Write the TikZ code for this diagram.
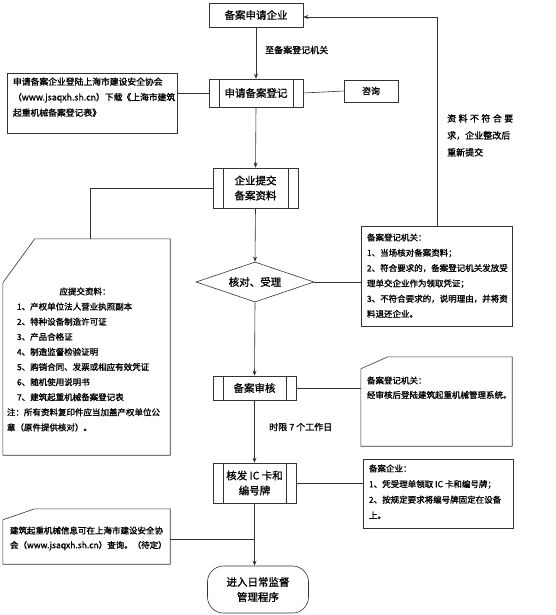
\documentclass[tikz,border=0pt]{standalone}
\usepackage{fontspec}
\setmainfont{Noto Sans CJK SC}[FakeBold=1.2,AutoFakeBold=1.2]
\usetikzlibrary{shapes.geometric,arrows.meta,calc}
\begin{document}
\begin{tikzpicture}[x=1pt,y=-1pt,
 line/.style={draw=black!80,line width=0.6pt},
 arr/.style={line,-{Stealth[length=5pt,width=4pt]}},
 box/.style={line,rectangle,inner sep=0pt,align=center,font=\fontsize{10.5}{15}\selectfont},
 notebox/.style={rectangle,inner sep=0pt},
 notetext/.style={anchor=north west,inner sep=0pt,align=left,font=\fontsize{8.5}{15.3}\selectfont},
 lbl/.style={anchor=west,inner sep=0pt,font=\fontsize{9}{12}\selectfont}]
\useasboundingbox (0,0) rectangle (555,615);

% main column
\node[box,minimum width=94pt,minimum height=24pt] (qy) at (256,15) {备案申请企业};
\node[box,minimum width=94pt,minimum height=28pt] (sq) at (256,93) {申请备案登记};
\node[box,minimum width=85pt,minimum height=40pt] (tj) at (255.5,188) {企业提交\\备案资料};
\node[line,diamond,inner sep=0pt,aspect=2.95,minimum width=118pt,minimum height=40pt,font=\fontsize{10.5}{15}\selectfont] (hd) at (255,282) {核对、受理};
\node[box,minimum width=83pt,minimum height=24pt] (sh) at (254.5,388) {备案审核};
\node[box,minimum width=83pt,minimum height=40pt] (hf) at (254.5,483) {核发 IC 卡和\\编号牌};
\node[box,rounded corners=16pt,minimum width=101pt,minimum height=47pt] (jr) at (258,589.5) {进入日常监督\\管理程序};

\foreach \n in {sq,tj,sh,hf} {
  \draw[line] ($(\n.north west)+(11,0)$) -- ($(\n.south west)+(11,0)$);
  \draw[line] ($(\n.north east)+(-10,0)$) -- ($(\n.south east)+(-10,0)$);
}

% side boxes
\node[box,minimum width=54pt,minimum height=22pt,font=\fontsize{9}{12}\selectfont] (zx) at (371,91) {咨询};

\node[notebox,minimum width=170pt,minimum height=59pt] (l1) at (92,103.5) {};
\draw[line] (l1.north west) rectangle (l1.south east);
\node[notetext,font=\fontsize{8.8}{15.5}\selectfont] (l1t) at ($(l1.north west)+(6,3.5)$) {申请备案企业登陆上海市建设安全协会\\（www.jsaqxh.sh.cn）下载《上海市建筑\\起重机械备案登记表》};

\node[notebox,minimum width=167pt,minimum height=216pt] (l2) at (86.5,347) {};
\draw[line] ($(l2.north west)+(32,0)$) -- (l2.north east) -- (l2.south east) -- (l2.south west) -- ($(l2.north west)+(0,44)$) -- cycle;
\node[notetext,font=\fontsize{8.5}{15.1}\selectfont] (l2t) at ($(l2.north west)+(4,48.5)$) {\makebox[156pt][c]{应提交资料：}\\
\hspace*{10pt}1、产权单位法人营业执照副本\\
\hspace*{10pt}2、特种设备制造许可证\\
\hspace*{10pt}3、产品合格证\\
\hspace*{10pt}4、制造监督检验证明\\
\hspace*{10pt}5、购销合同、发票或相应有效凭证\\
\hspace*{10pt}6、随机使用说明书\\
\hspace*{10pt}7、建筑起重机械备案登记表\\
注：所有资料复印件应当加盖产权单位公\\
章（原件提供核对）。};

\node[notebox,minimum width=151pt,minimum height=100pt] (r1) at (436.5,276) {};
\draw[line] (r1.north west) rectangle (r1.south east);
\node[notetext] (r1t) at ($(r1.north west)+(6,7.5)$) {备案登记机关：\\
1、当场核对备案资料；\\
2、符合要求的，备案登记机关发放受\\
理单交企业作为领取凭证；\\
3、不符合要求的，说明理由，并将资\\
料退还企业。};

\node[notebox,minimum width=151pt,minimum height=89pt] (r2) at (436.5,401.5) {};
\draw[line] ($(r2.north west)+(27,0)$) -- (r2.north east) -- (r2.south east) -- (r2.south west) -- ($(r2.north west)+(0,12)$) -- cycle;
\node[notetext,font=\fontsize{8.5}{14.5}\selectfont] (r2t) at ($(r2.north west)+(6,19.5)$) {备案登记机关：\\
经审核后登陆建筑起重机械管理系统。};

\node[notebox,minimum width=150pt,minimum height=69pt] (r3) at (438,493.5) {};
\draw[line] (r3.north west) rectangle (r3.south east);
\node[notetext,font=\fontsize{8.5}{15.6}\selectfont] (r3t) at ($(r3.north west)+(6,5.5)$) {备案企业：\\
1、凭受理单领取 IC 卡和编号牌；\\
2、按规定要求将编号牌固定在设备\\
上。};

\node[notebox,minimum width=167pt,minimum height=55pt] (l3) at (86.5,536.5) {};
\draw[line] ($(l3.north west)+(32,0)$) -- (l3.north east) -- (l3.south east) -- (l3.south west) -- ($(l3.north west)+(0,11)$) -- cycle;
\node[notetext,font=\fontsize{8.5}{14.5}\selectfont] (l3t) at ($(l3.north west)+(7,17.5)$) {建筑起重机械信息可在上海市建设安全协\\
会（www.jsaqxh.sh.cn）查询。（待定）};

% labels
\node[lbl] (lb1) at (265,50) {至备案登记机关};
\node[lbl] (lb2) at (269,427) {时限 7 个工作日};
\node[notetext,font=\fontsize{9}{17}\selectfont] (lb3) at (447,114) {\makebox[66pt][s]{资\hfill 料\hfill 不\hfill 符\hfill 合\hfill 要}\\求，企业整改后\\重新提交};

% connectors
\draw[arr] (qy.south) -- (sq.north);
\draw[arr] (sq.south) -- (tj.north);
\draw[arr] (tj.south) -- (hd.north);
\draw[arr] (hd.south) -- (sh.north);
\draw[arr] (sh.south) -- (hf.north);
\draw[arr] (hf.south) -- (jr.north -| hf.south);

\draw[line] (l1.east |- sq.west) -- (sq.west);
\draw[line] (sq.east) -- (zx.west);
\draw[line] (tj.west) -| ($(l2.north west)+(87,0)$);
\draw[line] (hd.east) -- (hd.east -| r1.west);
\draw[line] (sh.east) -- (sh.east -| r2.west);
\draw[line] (hf.east) -- (hf.east -| r3.west);
\coordinate (l3c) at (170,539);
\draw[line] (l3c) -- (l3c -| hf.south);

\coordinate (fb) at (437,17);
\draw[arr] (r1.north -| fb) -- (fb) -- (fb -| qy.east);
\end{tikzpicture}
\end{document}
